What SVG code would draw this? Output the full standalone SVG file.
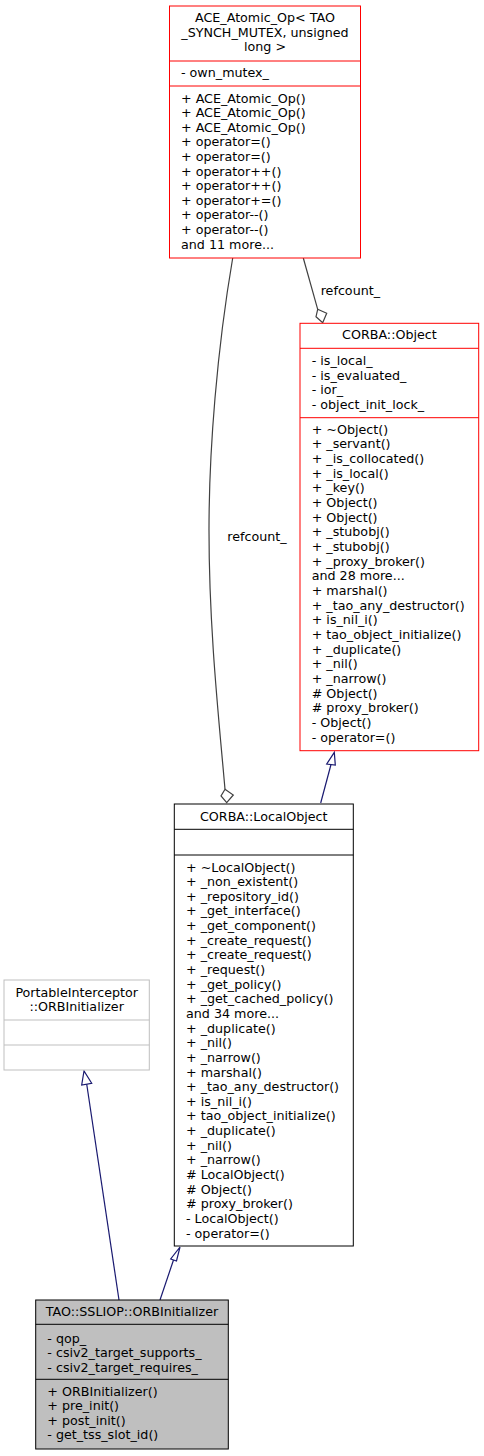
<svg xmlns="http://www.w3.org/2000/svg" width="484" height="1456" viewBox="0 0 484 1456">
<style>
text{font-family:"DejaVu Sans",sans-serif;font-size:12.7px;fill:#000}
.c{text-anchor:middle}
.red{fill:#fff;stroke:#ff0000;stroke-width:1}
.redl{stroke:#ff0000;stroke-width:1}
.blk{fill:#fff;stroke:#000;stroke-width:1}
.blkl{stroke:#000;stroke-width:1}
.gry{fill:#fff;stroke:#bfbfbf;stroke-width:1}
.gryl{stroke:#bfbfbf;stroke-width:1}
.cur{fill:#bfbfbf;stroke:#000;stroke-width:1}
.inh{fill:none;stroke:#191970;stroke-width:1.2}
.inha{fill:#fff;stroke:#191970;stroke-width:1.2}
.agg{fill:none;stroke:#404040;stroke-width:1.2}
.agga{fill:#fff;stroke:#404040;stroke-width:1.2}
</style>
<rect width="484" height="1456" fill="#fff"/>
<g id="connectors">
<path class="inh" d="M119,1300 L86.7,1084"/>
<polygon class="inha" points="84,1071 81.7,1085 91.7,1083.3"/>
<path class="inh" d="M160,1300 L173.5,1260"/>
<polygon class="inha" points="180,1247 170.7,1259 176.5,1261"/>
<path class="inh" d="M320.7,803 L331,764.5"/>
<polygon class="inha" points="334.3,752.3 326.7,764 335.3,765"/>
<path class="agg" d="M232.7,258 C217,350 209,450 209,530 C209,630 219,720 225,789.3"/>
<polygon class="agga" points="225,789.3 233.3,795 226.7,802.7 221,796"/>
<text x="227.3" y="541">refcount_</text>
<path class="agg" d="M303.3,258 L317.7,309.3"/>
<polygon class="agga" points="317.7,309.3 326.7,313.3 322.7,322.7 316,316.7"/>
<text x="320.7" y="295">refcount_</text>
</g>
<g id="ace_atomic_op">
<rect class="red" x="169.5" y="6" width="191" height="252"/>
<line class="redl" x1="169.5" y1="61" x2="360.5" y2="61"/>
<line class="redl" x1="169.5" y1="86" x2="360.5" y2="86"/>
<text class="c" x="265" y="22">ACE_Atomic_Op&lt; TAO</text>
<text class="c" x="265" y="36.5">_SYNCH_MUTEX, unsigned</text>
<text class="c" x="265" y="51">long &gt;</text>
<text x="181" y="76.5">- own_mutex_</text>
<text x="181" y="102.5">+ ACE_Atomic_Op()</text>
<text x="181" y="117.1">+ ACE_Atomic_Op()</text>
<text x="181" y="131.7">+ ACE_Atomic_Op()</text>
<text x="181" y="146.3">+ operator=()</text>
<text x="181" y="160.9">+ operator=()</text>
<text x="181" y="175.5">+ operator++()</text>
<text x="181" y="190.1">+ operator++()</text>
<text x="181" y="204.7">+ operator+=()</text>
<text x="181" y="219.3">+ operator--()</text>
<text x="181" y="233.9">+ operator--()</text>
<text x="181" y="248.5">and 11 more...</text>
</g>
<g id="corba_object">
<rect class="red" x="300" y="323.3" width="178.7" height="427.4"/>
<line class="redl" x1="300" y1="348.3" x2="478.7" y2="348.3"/>
<line class="redl" x1="300" y1="417.7" x2="478.7" y2="417.7"/>
<text class="c" x="389.4" y="338.5">CORBA::Object</text>
<text x="311.7" y="365">- is_local_</text>
<text x="311.7" y="379.6">- is_evaluated_</text>
<text x="311.7" y="394.2">- ior_</text>
<text x="311.7" y="408.8">- object_init_lock_</text>
<text x="311.7" y="433.5">+ ~Object()</text>
<text x="311.7" y="448.2">+ _servant()</text>
<text x="311.7" y="462.8">+ _is_collocated()</text>
<text x="311.7" y="477.5">+ _is_local()</text>
<text x="311.7" y="492.2">+ _key()</text>
<text x="311.7" y="506.8">+ Object()</text>
<text x="311.7" y="521.5">+ Object()</text>
<text x="311.7" y="536.2">+ _stubobj()</text>
<text x="311.7" y="550.8">+ _stubobj()</text>
<text x="311.7" y="565.5">+ _proxy_broker()</text>
<text x="311.7" y="580.2">and 28 more...</text>
<text x="311.7" y="594.8">+ marshal()</text>
<text x="311.7" y="609.5">+ _tao_any_destructor()</text>
<text x="311.7" y="624.2">+ is_nil_i()</text>
<text x="311.7" y="638.8">+ tao_object_initialize()</text>
<text x="311.7" y="653.5">+ _duplicate()</text>
<text x="311.7" y="668.2">+ _nil()</text>
<text x="311.7" y="682.8">+ _narrow()</text>
<text x="311.7" y="697.5"># Object()</text>
<text x="311.7" y="712.2"># proxy_broker()</text>
<text x="311.7" y="726.8">- Object()</text>
<text x="311.7" y="741.5">- operator=()</text>
</g>
<g id="corba_localobject">
<rect class="blk" x="174.3" y="804" width="179" height="442"/>
<line class="blkl" x1="174.3" y1="829.3" x2="353.3" y2="829.3"/>
<line class="blkl" x1="174.3" y1="855" x2="353.3" y2="855"/>
<text class="c" x="263.8" y="820.5">CORBA::LocalObject</text>
<text x="186" y="871.5">+ ~LocalObject()</text>
<text x="186" y="886.1">+ _non_existent()</text>
<text x="186" y="900.8">+ _repository_id()</text>
<text x="186" y="915.4">+ _get_interface()</text>
<text x="186" y="930.1">+ _get_component()</text>
<text x="186" y="944.7">+ _create_request()</text>
<text x="186" y="959.3">+ _create_request()</text>
<text x="186" y="974">+ _request()</text>
<text x="186" y="988.6">+ _get_policy()</text>
<text x="186" y="1003.3">+ _get_cached_policy()</text>
<text x="186" y="1017.9">and 34 more...</text>
<text x="186" y="1032.5">+ _duplicate()</text>
<text x="186" y="1047.2">+ _nil()</text>
<text x="186" y="1061.8">+ _narrow()</text>
<text x="186" y="1076.5">+ marshal()</text>
<text x="186" y="1091.1">+ _tao_any_destructor()</text>
<text x="186" y="1105.7">+ is_nil_i()</text>
<text x="186" y="1120.4">+ tao_object_initialize()</text>
<text x="186" y="1135">+ _duplicate()</text>
<text x="186" y="1149.7">+ _nil()</text>
<text x="186" y="1164.3">+ _narrow()</text>
<text x="186" y="1178.9"># LocalObject()</text>
<text x="186" y="1193.6"># Object()</text>
<text x="186" y="1208.2"># proxy_broker()</text>
<text x="186" y="1222.9">- LocalObject()</text>
<text x="186" y="1237.5">- operator=()</text>
</g>
<g id="portableinterceptor_orbinitializer">
<rect class="gry" x="4" y="980" width="145.3" height="90"/>
<line class="gryl" x1="4" y1="1020" x2="149.3" y2="1020"/>
<line class="gryl" x1="4" y1="1045" x2="149.3" y2="1045"/>
<text class="c" x="76.7" y="997">PortableInterceptor</text>
<text class="c" x="76.7" y="1010.5">::ORBInitializer</text>
</g>
<g id="tao_ssliop_orbinitializer">
<rect class="cur" x="35.7" y="1300" width="192.6" height="149"/>
<line class="blkl" x1="35.7" y1="1324.3" x2="228.3" y2="1324.3"/>
<line class="blkl" x1="35.7" y1="1379.3" x2="228.3" y2="1379.3"/>
<text class="c" x="132" y="1316">TAO::SSLIOP::ORBInitializer</text>
<text x="47.3" y="1342.5">- qop_</text>
<text x="47.3" y="1357.1">- csiv2_target_supports_</text>
<text x="47.3" y="1371.7">- csiv2_target_requires_</text>
<text x="47.3" y="1395.5">+ ORBInitializer()</text>
<text x="47.3" y="1410.1">+ pre_init()</text>
<text x="47.3" y="1424.7">+ post_init()</text>
<text x="47.3" y="1439.3">- get_tss_slot_id()</text>
</g>
</svg>
